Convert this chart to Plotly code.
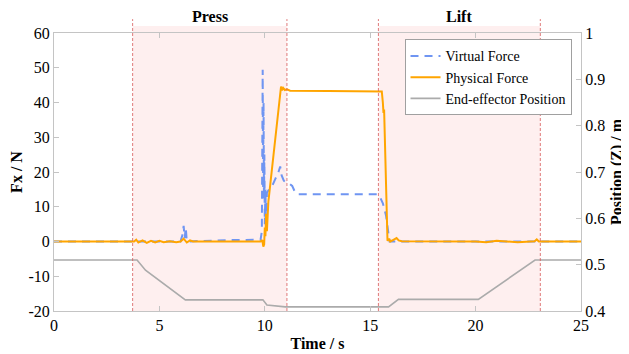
import plotly.graph_objects as go

# ---------------- data ----------------
phys_t = [0, 3.8, 3.9, 4.0, 4.2, 4.4, 4.6, 4.8, 5.0, 5.2, 5.5, 5.8, 6.0, 6.15, 6.3, 6.45, 6.6,
          9.8, 9.88, 9.93, 9.97, 10.0, 10.03, 10.06, 10.1, 10.13, 10.17, 10.77, 10.82, 10.87,
          10.95, 11.05, 11.2, 13.0, 15.55, 15.6, 15.63, 15.66, 15.82, 15.9, 15.95, 16.1,
          16.25, 16.35, 16.5, 20.0, 20.5, 21.0, 22.0, 22.8, 22.9, 23.0, 25.0]
phys_f = [0, 0, 0.5, -0.3, 0.3, -0.4, 0.2, -0.3, 0.2, -0.2, 0.1, -0.2, 0, 0.8, -0.3, 0.3, 0,
          0, 0.4, -1.5, -0.8, 4, 1.5, 8, 3, 10, 11.5, 44.6, 43.5, 44.2,
          43.6, 43.8, 43.4, 43.3, 43.2, 40, 37, 38, 0.2, 0.8, 0, 0.5,
          1.0, 0.3, 0.1, 0, -0.2, 0.2, -0.2, 0.1, 0.6, 0, 0]

virt_t = [0, 6.0, 6.1, 6.15, 6.2, 6.25, 6.3, 8.2, 9.8, 9.86, 9.9, 9.92, 9.94, 9.96, 9.98,
          10.0, 10.03, 10.06, 10.1, 10.2, 10.35, 10.5, 10.65, 10.73, 10.8, 10.9, 11.0,
          11.2, 11.3, 11.45, 11.6, 15.35, 15.45, 15.6, 15.75, 15.85, 15.92, 25.0]
virt_f = [0, 0, 2, 4.5, 1, 4, 0, 0.4, 0.5, 3, 49.4, 15, 40, 12, 25,
          5, 15, 3, 14, 15, 16, 18, 20, 21.6, 19, 17.5, 17,
          16.5, 16, 14, 13.6, 13.6, 13, 11, 7.5, 3, 0, 0]

pos_t = [0, 3.94, 4.34, 6.23, 9.91, 10.1, 10.97, 15.87, 16.34, 20.13, 22.82, 25.0]
pos_z = [0.51, 0.51, 0.488, 0.424, 0.424, 0.413, 0.409, 0.409, 0.425, 0.425, 0.51, 0.51]

phases = ["Press", "Lift"]
phase_start = [3.73, 15.39]
phase_end = [11.05, 23.07]

x_ticks = [0, 5, 10, 15, 20, 25]
y_ticks = [-20, -10, 0, 10, 20, 30, 40, 50, 60]
y_ticktext = ["-20", "-10", "0", "10", "20", "30", "40", "50", "60"]
y2_ticks = [0.4, 0.5, 0.6, 0.7, 0.8, 0.9, 1.0]
y2_ticktext = ["0.4", "0.5", "0.6", "0.7", "0.8", "0.9", "1"]

# ---------------- figure ----------------
FONT = "Liberation Serif"
AX = "#c4c4c4"

fig = go.Figure()
fig.add_trace(go.Scatter(x=virt_t, y=virt_f, mode="lines", name="Virtual Force",
                         line=dict(color="#6f95f2", width=2, dash="8px,6px")))
fig.add_trace(go.Scatter(x=phys_t, y=phys_f, mode="lines", name="Physical Force",
                         line=dict(color="#ffa500", width=2)))
fig.add_trace(go.Scatter(x=pos_t, y=pos_z, mode="lines", name="End-effector Position",
                         line=dict(color="#ababab", width=1.6), yaxis="y2"))

shapes = []
annotations = []
for name, s, e in zip(phases, phase_start, phase_end):
    shapes.append(dict(type="rect", xref="x", yref="paper", x0=s, x1=e, y0=0, y1=1.025,
                       fillcolor="rgba(240,80,80,0.09)", line=dict(width=0), layer="below"))
    for xv in (s, e):
        shapes.append(dict(type="line", xref="x", yref="paper", x0=xv, x1=xv, y0=0, y1=1.05,
                           line=dict(color="rgba(215,90,90,0.8)", width=1, dash="3px,2px"),
                           layer="above"))
    annotations.append(dict(x=(s + e) / 2, y=1.058, xref="x", yref="paper", text=f"<b>{name}</b>",
                            showarrow=False, font=dict(family=FONT, size=16, color="black"),
                            yanchor="middle"))

axis_common = dict(showline=True, linecolor=AX, linewidth=1, ticks="inside", ticklen=5,
                   tickcolor=AX, showgrid=False, zeroline=False, automargin=False,
                   tickfont=dict(family=FONT, size=16, color="black"))

# page body has an 8px margin: size the figure so the plot lands where the reference has it
fig.update_layout(
    width=621, height=346,
    margin=dict(l=46, r=48, t=25, b=43),
    font=dict(family=FONT, size=15, color="black"),
    paper_bgcolor="white", plot_bgcolor="white",
    showlegend=True,
    legend=dict(x=0.982, y=0.977, xanchor="right", yanchor="top",
                bgcolor="white", bordercolor="#a0a0a0", borderwidth=1,
                font=dict(family=FONT, size=14, color="black"),
                itemwidth=30, tracegroupgap=0),
    xaxis=dict(range=[0, 25], tickvals=x_ticks, mirror="ticks",
               title=dict(text="<b>Time / s</b>", font=dict(family=FONT, size=16, color="black"),
                          standoff=4),
               **axis_common),
    yaxis=dict(range=[-20, 60], tickvals=y_ticks, ticktext=y_ticktext,
               title=dict(text="<b>Fx / N</b>", font=dict(family=FONT, size=16, color="black"),
                          standoff=8),
               **axis_common),
    yaxis2=dict(range=[0.4, 1.0], tickvals=y2_ticks, ticktext=y2_ticktext,
                overlaying="y", side="right",
                title=dict(text="<b>Position (Z) / m</b>", font=dict(family=FONT, size=16, color="black"),
                           standoff=6),
                **axis_common),
    shapes=shapes,
    annotations=annotations,
)

fig.write_html("out.html")
